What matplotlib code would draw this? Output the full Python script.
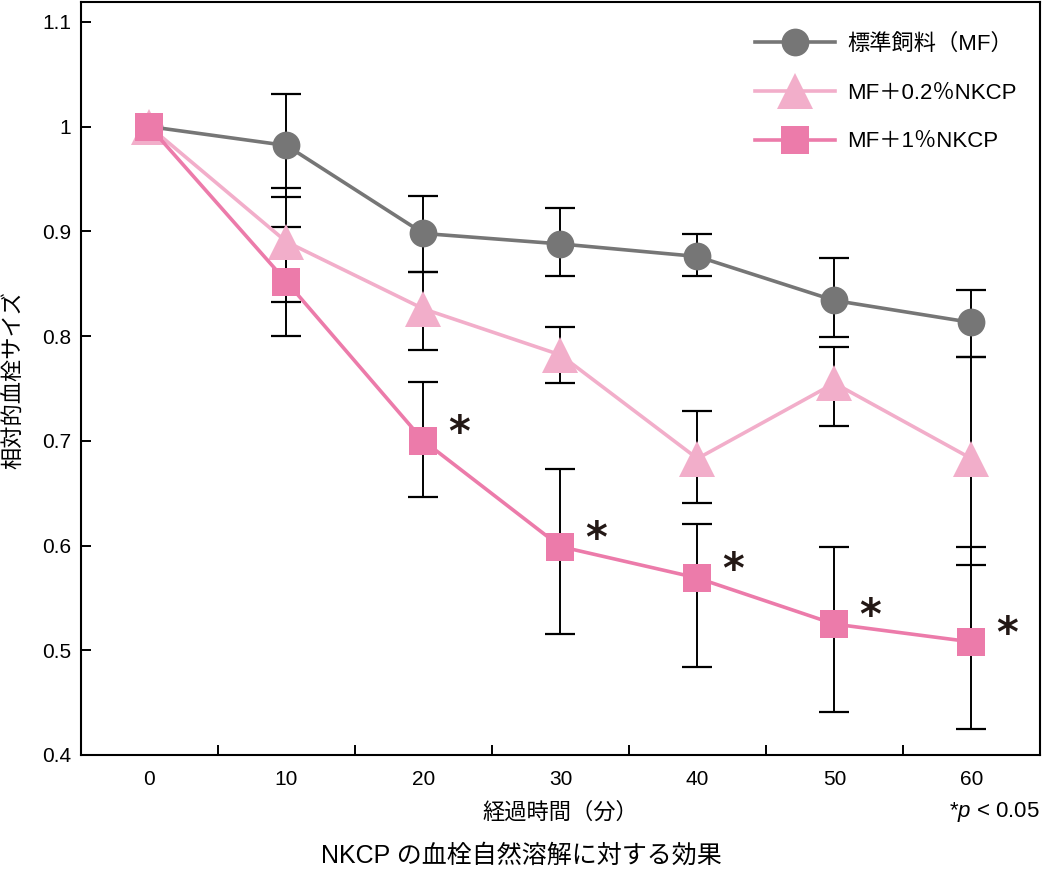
import matplotlib
matplotlib.use("Agg")
import matplotlib.pyplot as plt
from matplotlib.ticker import FuncFormatter

plt.rcParams['font.family'] = ['Liberation Sans', 'Noto Sans CJK JP']
plt.rcParams['mathtext.fontset'] = 'custom'
plt.rcParams['mathtext.it'] = 'Liberation Sans:italic'

# data (relative thrombus size vs elapsed minutes)
time = [0, 10, 20, 30, 40, 50, 60]

mf = [1.0, 0.982, 0.898, 0.888, 0.876, 0.834, 0.813]
mf_upper = [0, 0.049, 0.036, 0.034, 0.021, 0.041, 0.031]
mf_lower = [0, 0.049, 0.037, 0.031, 0.019, 0.035, 0.033]

nkcp02 = [1.0, 0.890, 0.826, 0.782, 0.683, 0.755, 0.683]
nkcp02_upper = [0, 0.051, 0.035, 0.027, 0.045, 0.035, 0.097]
nkcp02_lower = [0, 0.057, 0.039, 0.027, 0.042, 0.041, 0.102]

nkcp1 = [1.0, 0.852, 0.700, 0.599, 0.569, 0.525, 0.508]
nkcp1_upper = [0, 0.052, 0.056, 0.074, 0.052, 0.074, 0.091]
nkcp1_lower = [0, 0.052, 0.054, 0.083, 0.085, 0.084, 0.083]

significant = [20, 30, 40, 50, 60]

labels = ['標準飼料（MF）', 'MF＋0.2％NKCP', 'MF＋1％NKCP']
colors = ['#767676', '#F2AECA', '#EC7BAA']

fig = plt.figure(figsize=(10.42, 8.71), dpi=100)
ax = fig.add_axes([0.0777, 0.1332, 0.9203, 0.8645])

series = [
    (mf, mf_lower, mf_upper, 'o', 20),
    (nkcp02, nkcp02_lower, nkcp02_upper, '^', 26.5),
    (nkcp1, nkcp1_lower, nkcp1_upper, 's', 20),
]

# error bars sit underneath the lines and markers
for vals, lo, hi, _, _ in series:
    ax.errorbar(time[1:], vals[1:], yerr=[lo[1:], hi[1:]], fmt='none',
                ecolor='black', elinewidth=1.4, capsize=10.5, capthick=1.6,
                zorder=1)

for i, (vals, lo, hi, marker, ms) in enumerate(series):
    ax.plot(time, vals, color=colors[i], lw=2.6, marker=marker, markersize=ms,
            markeredgewidth=0, label=labels[i], zorder=2 + i)

# significance marks next to the 1% squares
for t in significant:
    ax.annotate('*', xy=(t, nkcp1[time.index(t)]), xytext=(26, 5),
                textcoords='offset points', ha='center', va='center',
                fontsize=30, fontweight='bold', color='#231815',
                family='DejaVu Sans')

ax.set_xlim(-5, 65)
ax.set_ylim(0.4, 1.119)
ax.set_xticks(time)
ax.set_xticks([5, 15, 25, 35, 45, 55], minor=True)
ax.set_yticks([0.4, 0.5, 0.6, 0.7, 0.8, 0.9, 1.0, 1.1])
ax.yaxis.set_major_formatter(FuncFormatter(lambda v, p: '%g' % round(v, 2)))
ax.tick_params(axis='x', which='major', length=0, pad=11, labelsize=15)
ax.tick_params(axis='x', which='minor', direction='in', length=7, width=1.4)
ax.tick_params(axis='y', direction='in', length=7, width=1.4, pad=7,
               labelsize=15)
for s in ax.spines.values():
    s.set_linewidth(1.5)

leg = ax.legend(loc='upper left', bbox_to_anchor=(0.703, 0.958), frameon=False,
                fontsize=16, handlelength=3.6, handletextpad=0.55,
                labelspacing=1.25, borderpad=0, borderaxespad=0)

fig.text(0.5375, 0.067, '経過時間（分）', ha='center', va='center', fontsize=16)
fig.text(0.014, 0.564, '相対的血栓サイズ', ha='center', va='center',
         rotation=90, fontsize=16)
fig.text(0.998, 0.068, '*$p$ < 0.05', ha='right', va='center', fontsize=16)
fig.text(0.5, 0.018, 'NKCP の血栓自然溶解に対する効果', ha='center', va='center',
         fontsize=18)

fig.savefig('out.png', dpi=100)
